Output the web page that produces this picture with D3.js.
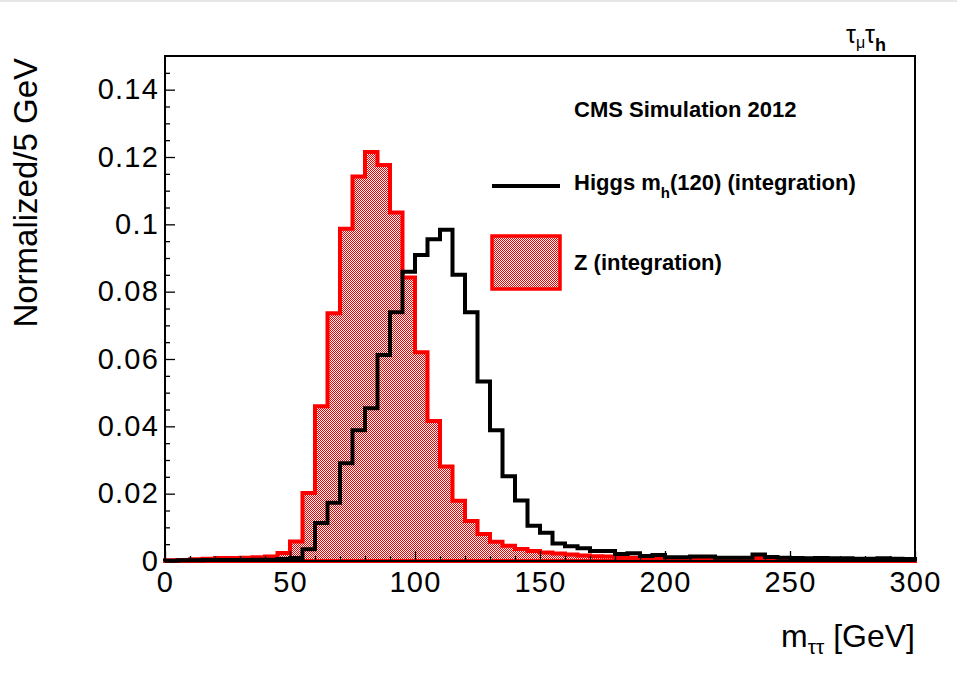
<!DOCTYPE html>
<html>
<head>
<meta charset="utf-8">
<script src="https://cdn.jsdelivr.net/npm/d3@7"></script>
<style>
  html, body { margin: 0; padding: 0; background: #fff; }
  svg { display: block; font-family: "Liberation Sans", Arial, Helvetica, sans-serif; }
</style>
</head>
<body>
<svg id="chart" width="957" height="699"></svg>
<script>
// ---------------- data ----------------
const binLow = [0,5,10,15,20,25,30,35,40,45,50,55,60,65,70,75,80,85,90,95,
  100,105,110,115,120,125,130,135,140,145,150,155,160,165,170,175,180,185,190,195,
  200,205,210,215,220,225,230,235,240,245,250,255,260,265,270,275,280,285,290,295];
const binWidth = 5;

const zValues = [0.0002,0.0003,0.0005,0.0007,0.0009,0.0009,0.0010,0.0011,0.0013,0.0024,
  0.0058,0.0202,0.0460,0.0736,0.0987,0.1142,0.1215,0.1176,0.1035,0.0842,
  0.0620,0.0416,0.0281,0.0179,0.0119,0.0080,0.0057,0.0045,0.0036,0.0030,
  0.0025,0.0022,0.0019,0.0016,0.0014,0.0013,0.0011,0.0010,0.0007,0.0006,
  0.0005,0.0004,0.0005,0.0006,0.0004,0.0003,0.0004,0.0009,0.0004,0.0003,
  0.0003,0.0002,0.0003,0.0002,0.0002,0.0003,0.0002,0.0002,0.0002,0.0001];

const higgsValues = [0.0001,0.0002,0.0002,0.0003,0.0003,0.0003,0.0003,0.0004,0.0004,0.0006,
  0.0009,0.0035,0.0113,0.0173,0.0290,0.0388,0.0454,0.0612,0.0739,0.0859,
  0.0909,0.0956,0.0984,0.0850,0.0739,0.0533,0.0388,0.0252,0.0180,0.0105,
  0.0084,0.0052,0.0044,0.0038,0.0030,0.0030,0.0021,0.0023,0.0015,0.0018,
  0.0011,0.0011,0.0013,0.0013,0.0010,0.0010,0.0010,0.0019,0.0012,0.0010,
  0.0009,0.0008,0.0009,0.0008,0.0008,0.0007,0.0007,0.0008,0.0007,0.0006];

const xMajorTicks = [0,50,100,150,200,250,300];
const xMinorTicks = [10,20,30,40,60,70,80,90,110,120,130,140,160,170,180,190,210,220,230,240,260,270,280,290];
const yMajorTicks = [0,0.02,0.04,0.06,0.08,0.1,0.12,0.14];
const yMinorTicks = [0.005,0.01,0.015,0.025,0.03,0.035,0.045,0.05,0.055,0.065,0.07,0.075,0.085,0.09,0.095,0.105,0.11,0.115,0.125,0.13,0.135,0.145];

const xDomain = [0,300];
const yDomain = [0,0.15];

// ---------------- layout ----------------
const frame = {left:165, right:915, top:56, bottom:561};
const svg = d3.select("#chart");

const x = d3.scaleLinear().domain(xDomain).range([frame.left, frame.right]);
const y = d3.scaleLinear().domain(yDomain).range([frame.bottom, frame.top]);

// thin grey line at very top
svg.append("rect").attr("x",0).attr("y",0).attr("width",957).attr("height",2).attr("fill","#e6e6e6");

// pattern
const defs = svg.append("defs");
const pat = defs.append("pattern").attr("id","hatch").attr("patternUnits","userSpaceOnUse")
  .attr("width",2).attr("height",2);
pat.append("rect").attr("width",2).attr("height",2).attr("fill","#ffffff");
pat.append("rect").attr("x",0).attr("y",0).attr("width",1).attr("height",1).attr("fill","#f20000");
pat.append("rect").attr("x",1).attr("y",1).attr("width",1).attr("height",1).attr("fill","#f20000");

function stepPoints(vals){
  const pts = [[x(binLow[0]), y(0)]];
  vals.forEach((v,i)=>{
    pts.push([x(binLow[i]), y(v)]);
    pts.push([x(binLow[i]+binWidth), y(v)]);
  });
  pts.push([x(binLow[binLow.length-1]+binWidth), y(0)]);
  return pts;
}
const line = d3.line();

// Z histogram
svg.append("path").attr("d", line(stepPoints(zValues)) + "Z")
  .attr("fill","url(#hatch)").attr("stroke","#ff0000").attr("stroke-width",4)
  .attr("stroke-linejoin","miter");

// Higgs histogram
svg.append("path").attr("d", line(stepPoints(higgsValues)))
  .attr("fill","none").attr("stroke","#000").attr("stroke-width",4)
  .attr("stroke-linejoin","miter");

// axes
const fmt = d => d===0 ? "0" : String(+d.toFixed(2));
const yAxis = svg.append("g").attr("transform",`translate(${frame.left},0)`)
  .call(d3.axisLeft(y).tickValues(yMajorTicks).tickSize(-10).tickPadding(6).tickFormat(fmt));
const yAxisMinor = svg.append("g").attr("transform",`translate(${frame.left},0)`)
  .call(d3.axisLeft(y).tickValues(yMinorTicks).tickSize(-5).tickFormat(""));
const xAxis = svg.append("g").attr("transform",`translate(0,${frame.bottom})`)
  .call(d3.axisBottom(x).tickValues(xMajorTicks).tickSize(-10).tickPadding(10).tickFormat(d3.format("d")));
const xAxisMinor = svg.append("g").attr("transform",`translate(0,${frame.bottom})`)
  .call(d3.axisBottom(x).tickValues(xMinorTicks).tickSize(-5).tickFormat(""));

[yAxis,yAxisMinor,xAxis,xAxisMinor].forEach(g=>{
  g.select(".domain").remove();
  g.selectAll(".tick line").attr("stroke","#000").attr("stroke-width",1.3);
  g.selectAll(".tick text").attr("fill","#000")
    .style("font-family","'Liberation Sans', Arial, sans-serif").style("font-size","29px")
    .style("letter-spacing","1.2px");
});

// frame
svg.append("rect").attr("x",frame.left).attr("y",frame.top)
  .attr("width",frame.right-frame.left).attr("height",frame.bottom-frame.top)
  .attr("fill","none").attr("stroke","#000").attr("stroke-width",2);

// axis titles
svg.append("text").attr("transform",`translate(37,58) rotate(-90)`)
  .attr("text-anchor","end").attr("font-size",33).attr("fill","#000")
  .text("Normalized/5 GeV");

const xt = svg.append("text").attr("x",915).attr("y",647).attr("text-anchor","end")
  .attr("font-size",32).attr("fill","#000");
xt.append("tspan").text("m");
xt.append("tspan").attr("font-size",21).attr("dy",7).text("ττ");
xt.append("tspan").attr("dy",-7).text(" [GeV]");

// top-right label
const tl = svg.append("text").attr("x",886).attr("y",43).attr("text-anchor","end")
  .attr("font-size",25).attr("fill","#000");
tl.append("tspan").text("τ");
tl.append("tspan").attr("font-size",16).attr("dy",5).text("μ");
tl.append("tspan").attr("dy",-5).text("τ");
tl.append("tspan").attr("font-size",18).attr("font-weight","bold").attr("dy",8).text("h");

// legend
svg.append("text").attr("x",574).attr("y",117).attr("font-size",22).attr("font-weight","bold")
  .attr("fill","#000").text("CMS Simulation 2012");

svg.append("line").attr("x1",492).attr("x2",560).attr("y1",186).attr("y2",186)
  .attr("stroke","#000").attr("stroke-width",4);
const lh = svg.append("text").attr("x",574).attr("y",190).attr("font-size",22).attr("font-weight","bold").attr("fill","#000");
lh.append("tspan").text("Higgs m");
lh.append("tspan").attr("font-size",15).attr("dy",8).text("h");
lh.append("tspan").attr("dy",-8).text("(120) (integration)");

svg.append("rect").attr("x",492).attr("y",236).attr("width",68).attr("height",53)
  .attr("fill","url(#hatch)").attr("stroke","#ff0000").attr("stroke-width",3.5);
svg.append("text").attr("x",574).attr("y",270).attr("font-size",22).attr("font-weight","bold")
  .attr("fill","#000").text("Z (integration)");
</script>
</body>
</html>
